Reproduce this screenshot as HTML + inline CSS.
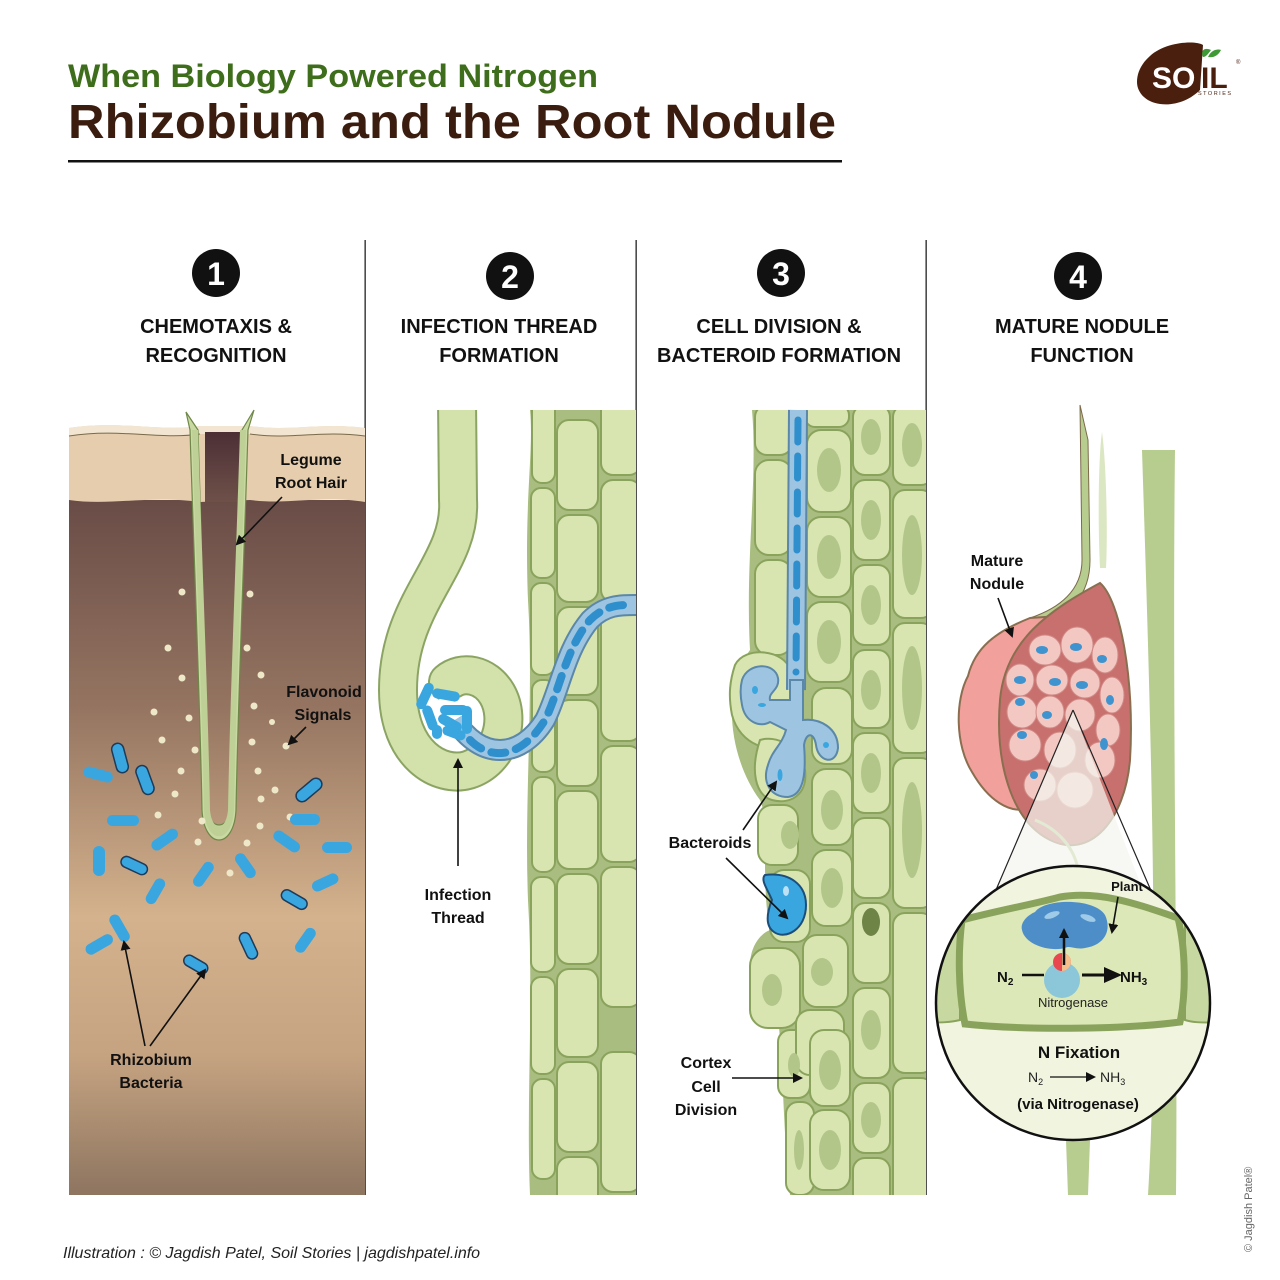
<!DOCTYPE html>
<html><head><meta charset="utf-8"><style>
html,body{margin:0;padding:0;background:#fff;}
svg{display:block;font-family:"Liberation Sans",Arial,Helvetica,sans-serif;}
text{font-family:"Liberation Sans",Arial,Helvetica,sans-serif;}
.h{font-weight:bold;font-size:20px;fill:#111;text-anchor:middle;}
.l{font-weight:bold;font-size:16px;fill:#111;text-anchor:middle;}
.c{fill:#d8e5b0;stroke:#8aa35c;stroke-width:2;}
.n{fill:#b3c689;}
.b{fill:#3aa6e0;}
.bs{fill:#3aa6e0;stroke:#1d3b5a;stroke-width:1.5;}
.ar{stroke:#111;stroke-width:1.6;fill:none;marker-end:url(#ah);}
</style></head><body>
<svg width="1280" height="1280" viewBox="0 0 1280 1280" xmlns="http://www.w3.org/2000/svg" font-family="Liberation Sans, Arial, sans-serif">
<defs>
<marker id="ah" markerWidth="10" markerHeight="10" refX="8" refY="5" orient="auto" markerUnits="userSpaceOnUse"><path d="M0,0 L10,5 L0,10 z" fill="#111"/></marker>
<marker id="ah2" markerWidth="20" markerHeight="20" refX="14" refY="10" orient="auto" markerUnits="userSpaceOnUse"><path d="M0,2 L18,10 L0,18 z" fill="#111"/></marker>
<linearGradient id="soil" x1="0" y1="0" x2="0" y2="1">
<stop offset="0" stop-color="#6a4c47"/><stop offset="0.3" stop-color="#957561"/><stop offset="0.6" stop-color="#d4b28d"/><stop offset="0.8" stop-color="#c5a381"/><stop offset="1" stop-color="#8e7560"/></linearGradient>
<linearGradient id="hole" x1="0" y1="0" x2="0" y2="1"><stop offset="0" stop-color="#4c2f35"/><stop offset="1" stop-color="#6f5049"/></linearGradient>
<clipPath id="p3"><rect x="637" y="410" width="289" height="785"/></clipPath>
<clipPath id="p2"><rect x="366" y="410" width="270" height="785"/></clipPath>
<clipPath id="circ"><circle cx="1073" cy="1003" r="137"/></clipPath>
</defs>

<text x="68" y="87" font-size="32" font-weight="bold" fill="#3e6e1b" textLength="530" lengthAdjust="spacingAndGlyphs">When Biology Powered Nitrogen</text>
<text x="68" y="138" font-size="48" font-weight="bold" fill="#3b1d0f" textLength="768" lengthAdjust="spacingAndGlyphs">Rhizobium and the Root Nodule</text>
<rect x="68" y="160" width="774" height="2.5" fill="#111"/>

<!-- Logo -->
<path d="M1150,56 C1165,42 1195,40 1203,45 L1200,90 C1190,100 1175,106 1160,104 C1145,102 1137,92 1137,82 C1137,72 1142,63 1150,56 z" fill="#4a1f0e"/>
<text x="1152" y="88" font-size="30" font-weight="bold" fill="#fff">SO</text>
<text x="1201" y="88" font-size="30" font-weight="bold" fill="#4a1f0e">IL</text>
<path d="M1203,57 C1200,50 1205,47 1211,50 C1208,54 1206,57 1203,57z M1208,57 C1212,49 1218,49 1221,50 C1218,56 1213,58 1208,57z" fill="#3f9a35"/>
<text x="1198" y="95" font-size="5.5" fill="#4a1f0e" letter-spacing="1.5">STORIES</text>
<text x="1236" y="64" font-size="6" fill="#4a1f0e">®</text>

<rect x="364.5" y="240" width="1.3" height="955" fill="#222"/>
<rect x="635.5" y="240" width="1.3" height="955" fill="#222"/>
<rect x="925.5" y="240" width="1.3" height="955" fill="#222"/>

<g font-weight="bold" font-size="32" fill="#fff" text-anchor="middle">
<circle cx="216" cy="273" r="24" fill="#111"/><text x="216" y="285">1</text>
<circle cx="510" cy="276" r="24" fill="#111"/><text x="510" y="288">2</text>
<circle cx="781" cy="273" r="24" fill="#111"/><text x="781" y="285">3</text>
<circle cx="1078" cy="276" r="24" fill="#111"/><text x="1078" y="288">4</text>
</g>
<text class="h" x="216" y="333">CHEMOTAXIS &amp;</text><text class="h" x="216" y="362">RECOGNITION</text>
<text class="h" x="499" y="333">INFECTION THREAD</text><text class="h" x="499" y="362">FORMATION</text>
<text class="h" x="779" y="333">CELL DIVISION &amp;</text><text class="h" x="779" y="362">BACTEROID FORMATION</text>
<text class="h" x="1082" y="333">MATURE NODULE</text><text class="h" x="1082" y="362">FUNCTION</text>

<!-- PANEL 1 -->
<rect x="69" y="500" width="296" height="695" fill="url(#soil)"/>
<path d="M69,428 C120,420 160,432 200,426 L250,426 C290,432 320,422 365,428 L365,502 C320,495 290,505 250,500 L200,502 C150,495 110,506 69,500 z" fill="#e5cdae"/>
<path d="M69,428 C120,420 160,432 200,426 L250,426 C290,432 320,422 365,428 L365,436 C320,430 290,440 250,434 L200,434 C160,440 120,428 69,436 z" fill="#f2e6d2"/>
<path d="M69,436 C120,428 160,440 200,434 M250,434 C290,440 320,430 365,436" stroke="#7a6a4a" stroke-width="1" fill="none"/>
<rect x="205" y="432" width="38" height="70" fill="url(#hole)"/>
<path d="M186,412 L190,430 C194,560 200,700 202,810 C204,850 234,850 236,810 C238,700 244,560 248,430 L254,410 L242,430 C238,560 232,700 230,810 C228,830 210,830 208,810 C206,700 202,560 198,430 z" fill="#c9d9a2" stroke="#6f8748" stroke-width="1.2"/>
<path d="M192,430 C196,560 202,700 204,810 C206,845 232,845 234,810 C236,700 242,560 246,430 L240,430 C236,560 230,700 228,810 C226,832 212,832 210,810 C208,700 202,560 198,430z" fill="#bed096"/>
<g fill="#eee8c8">
<circle cx="182" cy="592" r="3.5"/><circle cx="250" cy="594" r="3.5"/><circle cx="168" cy="648" r="3.5"/><circle cx="247" cy="648" r="3.5"/><circle cx="182" cy="678" r="3.5"/><circle cx="261" cy="675" r="3.5"/><circle cx="154" cy="712" r="3.5"/><circle cx="189" cy="718" r="3.5"/><circle cx="254" cy="706" r="3.5"/><circle cx="272" cy="722" r="3"/><circle cx="162" cy="740" r="3.5"/><circle cx="195" cy="750" r="3.5"/><circle cx="252" cy="742" r="3.5"/><circle cx="286" cy="746" r="3.5"/><circle cx="181" cy="771" r="3.5"/><circle cx="258" cy="771" r="3.5"/><circle cx="175" cy="794" r="3.5"/><circle cx="275" cy="790" r="3.5"/><circle cx="261" cy="799" r="3.5"/><circle cx="158" cy="815" r="3.5"/><circle cx="202" cy="821" r="3.5"/><circle cx="260" cy="826" r="3.5"/><circle cx="290" cy="817" r="3.5"/><circle cx="198" cy="842" r="3.5"/><circle cx="247" cy="843" r="3.5"/><circle cx="230" cy="873" r="3.5"/>
</g>
<g>
<rect class="bs" x="114" y="743" width="12" height="30" rx="6" transform="rotate(-15 120 758)"/>
<rect class="bs" x="139" y="765" width="12" height="30" rx="6" transform="rotate(-20 145 780)"/>
<rect class="b" x="83" y="769" width="30" height="11" rx="5.5" transform="rotate(15 98 775)"/>
<rect class="b" x="107" y="815" width="32" height="11" rx="5.5"/>
<rect class="b" x="150" y="834" width="30" height="11" rx="5.5" transform="rotate(-35 165 840)"/>
<rect class="b" x="93" y="846" width="12" height="30" rx="6"/>
<rect class="bs" x="120" y="860" width="28" height="11" rx="5.5" transform="rotate(25 134 866)"/>
<rect class="b" x="150" y="877" width="11" height="28" rx="5.5" transform="rotate(30 155 891)"/>
<rect class="b" x="198" y="860" width="11" height="28" rx="5.5" transform="rotate(35 203 874)"/>
<rect class="b" x="240" y="852" width="11" height="28" rx="5.5" transform="rotate(-35 245 866)"/>
<rect class="bs" x="303" y="775" width="12" height="30" rx="6" transform="rotate(50 309 790)"/>
<rect class="b" x="290" y="814" width="30" height="11" rx="5.5"/>
<rect class="b" x="272" y="836" width="30" height="11" rx="5.5" transform="rotate(35 287 841)"/>
<rect class="b" x="322" y="842" width="30" height="11" rx="5.5"/>
<rect class="b" x="311" y="877" width="28" height="11" rx="5.5" transform="rotate(-25 325 882)"/>
<rect class="bs" x="280" y="894" width="28" height="11" rx="5.5" transform="rotate(30 294 900)"/>
<rect class="b" x="114" y="913" width="11" height="30" rx="5.5" transform="rotate(-30 120 928)"/>
<rect class="b" x="84" y="939" width="30" height="11" rx="5.5" transform="rotate(-30 99 944)"/>
<rect class="bs" x="243" y="932" width="11" height="28" rx="5.5" transform="rotate(-25 248 946)"/>
<rect class="b" x="300" y="926" width="11" height="28" rx="5.5" transform="rotate(35 305 940)"/>
<rect class="bs" x="183" y="959" width="26" height="11" rx="5.5" transform="rotate(30 196 964)"/>
</g>
<text class="l" x="311" y="465">Legume</text><text class="l" x="311" y="488">Root Hair</text>
<line class="ar" x1="282" y1="497" x2="237" y2="544"/>
<text class="l" x="324" y="697">Flavonoid</text><text class="l" x="323" y="720">Signals</text>
<line class="ar" x1="306" y1="727" x2="289" y2="744"/>
<text class="l" x="151" y="1065">Rhizobium</text><text class="l" x="151" y="1088">Bacteria</text>
<line class="ar" x1="145" y1="1046" x2="124" y2="942"/>
<line class="ar" x1="150" y1="1046" x2="205" y2="970"/>

<!-- PANEL 2 -->
<g clip-path="url(#p2)">
<path d="M530,410 L636,410 L636,1195 L530,1195 C526,1100 534,1000 528,900 C524,800 534,700 528,600 C524,500 534,450 530,410z" fill="#a8bd7f"/>
<g class="c">
<rect x="532" y="400" width="23" height="83" rx="10"/><rect x="531" y="488" width="24" height="90" rx="10"/><rect x="531" y="583" width="24" height="92" rx="10"/><rect x="532" y="680" width="23" height="92" rx="10"/><rect x="532" y="777" width="23" height="95" rx="10"/><rect x="531" y="877" width="24" height="95" rx="10"/><rect x="531" y="977" width="24" height="97" rx="10"/><rect x="532" y="1079" width="23" height="100" rx="10"/>
<rect x="557" y="420" width="41" height="90" rx="12"/><rect x="557" y="515" width="41" height="87" rx="12"/><rect x="557" y="607" width="41" height="88" rx="12"/><rect x="557" y="700" width="41" height="86" rx="12"/><rect x="557" y="791" width="41" height="78" rx="12"/><rect x="557" y="874" width="41" height="90" rx="12"/><rect x="557" y="969" width="41" height="88" rx="12"/><rect x="557" y="1062" width="41" height="90" rx="12"/><rect x="557" y="1157" width="41" height="50" rx="12"/>
<rect x="601" y="395" width="40" height="80" rx="12"/><rect x="601" y="480" width="40" height="122" rx="12"/><rect x="601" y="607" width="40" height="134" rx="12"/><rect x="601" y="746" width="40" height="116" rx="12"/><rect x="601" y="867" width="40" height="140" rx="12"/><rect x="601" y="1052" width="40" height="140" rx="12"/>
</g>
<path d="M457,400 L458,500 C462,565 398,600 398,690 C398,755 440,778 468,770 C500,760 512,720 497,694 C485,674 462,670 448,682" fill="none" stroke="#8ba463" stroke-width="40" stroke-linecap="round"/>
<path d="M457,400 L458,500 C462,565 398,600 398,690 C398,755 440,778 468,770 C500,760 512,720 497,694 C485,674 462,670 448,682" fill="none" stroke="#d3e1ab" stroke-width="36" stroke-linecap="round"/>
</g>
<ellipse cx="452" cy="714" rx="22" ry="18" fill="#fff"/>
<path d="M455,720 C480,760 520,760 545,720 C560,690 565,650 590,620 C605,605 620,605 636,605" fill="none" stroke="#5b87a8" stroke-width="22"/>
<path d="M455,720 C480,760 520,760 545,720 C560,690 565,650 590,620 C605,605 620,605 636,605" fill="none" stroke="#9dc5e2" stroke-width="18"/>
<path d="M470,740 C490,760 520,760 545,720 C560,690 565,650 590,620 C605,605 620,605 630,605" fill="none" stroke="#2e8fcc" stroke-width="8" stroke-dasharray="14 11" stroke-linecap="round"/>
<g>
<rect class="b" x="420" y="682" width="10" height="28" rx="5" transform="rotate(25 425 696)"/>
<rect class="b" x="432" y="690" width="28" height="10" rx="5" transform="rotate(10 446 695)"/>
<rect class="b" x="440" y="705" width="28" height="10" rx="5"/>
<rect class="b" x="425" y="705" width="10" height="26" rx="5" transform="rotate(-20 430 718)"/>
<rect class="b" x="437" y="718" width="26" height="10" rx="5" transform="rotate(30 450 723)"/>
<rect class="b" x="462" y="706" width="10" height="28" rx="5"/>
<rect class="b" x="442" y="728" width="24" height="10" rx="5" transform="rotate(20 454 733)"/>
<rect class="b" x="432" y="725" width="10" height="14" rx="5"/>
</g>
<text class="l" x="458" y="900">Infection</text><text class="l" x="458" y="923">Thread</text>
<line class="ar" x1="458" y1="866" x2="458" y2="760"/>

<!-- PANEL 3 -->
<g clip-path="url(#p3)">
<path d="M752,410 L926,410 L926,1195 L790,1195 C782,1120 784,1060 776,1000 C740,990 745,940 770,930 C760,880 770,820 760,800 C730,760 720,690 750,650 C745,560 758,480 752,410z" fill="#a8bd7f"/>
<g class="c">
<rect x="755" y="405" width="37" height="50" rx="12"/><rect x="755" y="460" width="37" height="95" rx="14"/><rect x="755" y="560" width="37" height="95" rx="14"/>
<rect x="758" y="805" width="40" height="60" rx="14"/><rect x="770" y="870" width="40" height="72" rx="14"/>
<rect x="750" y="948" width="50" height="80" rx="18"/><rect x="778" y="1030" width="32" height="68" rx="12"/><rect x="786" y="1102" width="28" height="93" rx="12"/>
<rect x="805" y="405" width="44" height="22" rx="10"/><rect x="807" y="430" width="44" height="82" rx="14"/><rect x="807" y="517" width="44" height="80" rx="14"/><rect x="807" y="602" width="44" height="80" rx="14"/><rect x="812" y="688" width="40" height="76" rx="14"/><rect x="812" y="769" width="40" height="76" rx="14"/><rect x="812" y="850" width="40" height="76" rx="14"/><rect x="803" y="935" width="45" height="72" rx="14"/><rect x="796" y="1010" width="48" height="65" rx="14"/><rect x="810" y="1030" width="40" height="76" rx="14"/><rect x="810" y="1110" width="40" height="80" rx="14"/>
<rect x="853" y="405" width="37" height="70" rx="12"/><rect x="853" y="480" width="37" height="80" rx="12"/><rect x="853" y="565" width="37" height="80" rx="12"/><rect x="853" y="650" width="37" height="78" rx="12"/><rect x="853" y="733" width="37" height="80" rx="12"/><rect x="853" y="818" width="37" height="80" rx="12"/><rect x="853" y="903" width="37" height="80" rx="12"/><rect x="853" y="988" width="37" height="90" rx="12"/><rect x="853" y="1083" width="37" height="70" rx="12"/><rect x="853" y="1158" width="37" height="50" rx="12"/>
<rect x="893" y="405" width="40" height="80" rx="12"/><rect x="893" y="490" width="40" height="128" rx="12"/><rect x="893" y="623" width="40" height="130" rx="12"/><rect x="893" y="758" width="40" height="150" rx="12"/><rect x="893" y="913" width="40" height="160" rx="12"/><rect x="893" y="1078" width="40" height="130" rx="12"/>
</g>
<g class="n">
<ellipse cx="829" cy="470" rx="12" ry="22"/><ellipse cx="829" cy="557" rx="12" ry="22"/><ellipse cx="829" cy="642" rx="12" ry="22"/><ellipse cx="832" cy="810" rx="11" ry="20"/><ellipse cx="832" cy="888" rx="11" ry="20"/><ellipse cx="822" cy="972" rx="11" ry="14"/><ellipse cx="830" cy="1070" rx="11" ry="20"/><ellipse cx="830" cy="1150" rx="11" ry="20"/>
<ellipse cx="871" cy="437" rx="10" ry="18"/><ellipse cx="871" cy="520" rx="10" ry="20"/><ellipse cx="871" cy="605" rx="10" ry="20"/><ellipse cx="871" cy="690" rx="10" ry="20"/><ellipse cx="871" cy="773" rx="10" ry="20"/><ellipse cx="871" cy="1030" rx="10" ry="20"/><ellipse cx="871" cy="1120" rx="10" ry="18"/>
<ellipse cx="912" cy="445" rx="10" ry="22"/><ellipse cx="912" cy="555" rx="10" ry="40"/><ellipse cx="912" cy="688" rx="10" ry="42"/><ellipse cx="912" cy="830" rx="10" ry="48"/>
<ellipse cx="772" cy="990" rx="10" ry="16"/><ellipse cx="794" cy="1065" rx="6" ry="12"/><ellipse cx="799" cy="1150" rx="5" ry="20"/><ellipse cx="790" cy="835" rx="9" ry="14"/>
</g>
<ellipse cx="871" cy="922" rx="9" ry="14" fill="#6d8446"/>
</g>
<path d="M735,665 C745,645 785,650 790,670 L795,745 C770,755 740,745 732,715 C728,695 730,680 735,665z" fill="#d8e5b0" stroke="#8aa35c" stroke-width="2"/>
<path d="M760,740 C775,735 800,745 805,770 C808,795 790,805 772,800 C755,795 750,770 760,740z" fill="#d8e5b0" stroke="#8aa35c" stroke-width="2"/>
<path d="M798,410 L796,690" fill="none" stroke="#5b87a8" stroke-width="20"/>
<path d="M798,410 L796,690" fill="none" stroke="#9dc5e2" stroke-width="16"/>
<path d="M798,420 L796,672" fill="none" stroke="#2e8fcc" stroke-width="7" stroke-dasharray="22 14" stroke-linecap="round"/>
<path d="M742,680 C748,662 775,662 778,678 C780,690 768,692 770,700 L790,700 L790,680 L803,680 L803,720 C820,718 838,728 838,748 C836,766 818,762 816,745 C814,732 806,732 804,745 C806,770 805,795 788,797 C770,797 762,782 768,765 C772,750 782,745 786,730 L770,722 C760,728 745,722 742,705 C740,695 740,688 742,680z" fill="#9dc5e2" stroke="#5b87a8" stroke-width="2"/>
<g fill="#3aa6e0"><ellipse cx="755" cy="690" rx="3" ry="4"/><ellipse cx="762" cy="705" rx="4" ry="2"/><ellipse cx="780" cy="775" rx="2.5" ry="6"/><ellipse cx="826" cy="745" rx="3" ry="3"/></g>
<path d="M765,875 C790,872 806,885 806,905 C806,930 785,940 774,932 C764,925 768,910 772,900 C768,890 760,880 765,875z" fill="#3aa6e0" stroke="#1d4e7a" stroke-width="2"/>
<ellipse cx="786" cy="891" rx="3" ry="5" fill="#bde1f5"/>
<text class="l" x="710" y="848">Bacteroids</text>
<line class="ar" x1="743" y1="830" x2="776" y2="782"/>
<line class="ar" x1="726" y1="858" x2="787" y2="918"/>
<text class="l" x="706" y="1068">Cortex</text><text class="l" x="706" y="1092">Cell</text><text class="l" x="706" y="1115">Division</text>
<line class="ar" x1="732" y1="1078" x2="801" y2="1078"/>

<!-- PANEL 4 -->
<path d="M1142,450 L1175,450 C1172,700 1178,1000 1176,1195 L1148,1195 C1160,1000 1150,700 1142,450z" fill="#b7cc8f"/>
<path d="M1080,405 L1082,560 C1082,590 1060,608 1030,618 L1034,628 C1070,616 1090,596 1090,560 L1088,440 z" fill="#b7cc8f" stroke="#7c6a4a" stroke-width="1"/>
<path d="M1102,432 C1106,460 1108,530 1106,568 L1100,568 C1098,530 1098,460 1102,432z" fill="#dbe6c2"/>
<path d="M1030,618 C995,632 975,648 968,676 C955,700 955,745 972,772 C988,800 1010,815 1030,808 L1060,780 C1030,720 1045,640 1075,615 z" fill="#f2a09b" stroke="#8a6e50" stroke-width="2"/>
<path d="M1100,583 C1120,600 1135,680 1130,760 C1125,820 1090,860 1050,840 C1010,820 995,760 1000,700 C1005,640 1050,610 1100,583z" fill="#c8706e" stroke="#8a6e50" stroke-width="2"/>
<g fill="#f3c8c2" stroke="#d08985" stroke-width="1">
<ellipse cx="1045" cy="650" rx="16" ry="15"/><ellipse cx="1077" cy="645" rx="16" ry="18"/><ellipse cx="1105" cy="655" rx="13" ry="18"/>
<ellipse cx="1020" cy="680" rx="14" ry="16"/><ellipse cx="1052" cy="680" rx="16" ry="15"/><ellipse cx="1085" cy="683" rx="15" ry="15"/><ellipse cx="1112" cy="695" rx="12" ry="18"/>
<ellipse cx="1022" cy="712" rx="15" ry="16"/><ellipse cx="1050" cy="712" rx="14" ry="16"/><ellipse cx="1080" cy="715" rx="15" ry="16"/><ellipse cx="1108" cy="730" rx="12" ry="16"/>
<ellipse cx="1025" cy="745" rx="16" ry="16"/><ellipse cx="1060" cy="750" rx="16" ry="18"/><ellipse cx="1100" cy="760" rx="15" ry="18"/>
<ellipse cx="1040" cy="785" rx="16" ry="16"/><ellipse cx="1075" cy="790" rx="18" ry="18"/>
</g>
<g fill="#3f94cf">
<ellipse cx="1042" cy="650" rx="6" ry="4"/><ellipse cx="1076" cy="647" rx="6" ry="4"/><ellipse cx="1102" cy="659" rx="5" ry="4"/><ellipse cx="1020" cy="680" rx="6" ry="4"/><ellipse cx="1055" cy="682" rx="6" ry="4"/><ellipse cx="1082" cy="685" rx="6" ry="4"/><ellipse cx="1020" cy="702" rx="5" ry="4"/><ellipse cx="1047" cy="715" rx="5" ry="4"/><ellipse cx="1110" cy="700" rx="4" ry="5"/><ellipse cx="1022" cy="735" rx="5" ry="4"/><ellipse cx="1104" cy="744" rx="4" ry="6"/><ellipse cx="1034" cy="775" rx="4" ry="4"/>
</g>
<path d="M1035,820 C1060,830 1075,850 1078,870" stroke="#b7cc8f" stroke-width="3" fill="none"/>
<path d="M1073,710 L966,960 L1170,960 z" fill="#f4f5ee" fill-opacity="0.72"/>
<path d="M1073,710 L966,960 M1073,710 L1168,930" stroke="#222" stroke-width="1.2"/>
<path d="M1066,1140 L1090,1140 L1088,1195 L1068,1195z" fill="#b7cc8f"/>
<circle cx="1073" cy="1003" r="137" fill="#f1f4df"/>
<g clip-path="url(#circ)">
<path d="M900,920 C930,915 950,925 960,925 L960,1020 C940,1025 920,1020 900,1025z" fill="#c7d8a0" stroke="#8aa35c" stroke-width="2"/>
<path d="M1185,925 C1200,915 1230,920 1240,925 L1240,1025 C1220,1020 1200,1025 1185,1020z" fill="#c7d8a0" stroke="#8aa35c" stroke-width="2"/>
<path d="M962,920 C1000,910 1030,905 1060,897 C1100,890 1140,905 1178,918 C1186,950 1186,995 1180,1022 C1120,1030 1020,1030 965,1024 C958,990 958,950 962,920z" fill="#dce8b8" stroke="#8aa35c" stroke-width="7"/>
</g>
<circle cx="1073" cy="1003" r="137" fill="none" stroke="#111" stroke-width="2.5"/>
<path d="M1035,912 C1045,898 1095,898 1105,915 C1112,930 1105,945 1085,948 C1075,950 1070,945 1065,948 C1050,952 1025,945 1022,930 C1020,922 1028,915 1035,912z" fill="#4e8ec8"/>
<ellipse cx="1052" cy="915" rx="8" ry="3" fill="#9fcbe8" transform="rotate(-20 1052 915)"/>
<ellipse cx="1088" cy="918" rx="8" ry="3" fill="#9fcbe8" transform="rotate(20 1088 918)"/>
<circle cx="1062" cy="980" r="18" fill="#8bc7d8"/>
<circle cx="1062" cy="962" r="9" fill="#e8474f"/><path d="M1062,953 A9,9 0 0,1 1062,971z" fill="#f5c08c"/>
<line x1="1064" y1="965" x2="1064" y2="930" stroke="#111" stroke-width="2.5" marker-end="url(#ah)"/>
<line x1="1022" y1="975" x2="1044" y2="975" stroke="#111" stroke-width="2.5"/>
<line x1="1082" y1="975" x2="1118" y2="975" stroke="#111" stroke-width="3" marker-end="url(#ah2)"/>
<text x="997" y="982" font-size="15" font-weight="bold" fill="#111">N<tspan font-size="10" dy="3">2</tspan></text>
<text x="1120" y="982" font-size="15" font-weight="bold" fill="#111">NH<tspan font-size="10" dy="3">3</tspan></text>
<text x="1073" y="1007" font-size="13" fill="#222" text-anchor="middle">Nitrogenase</text>
<text x="1127" y="891" font-size="13" font-weight="bold" fill="#111" text-anchor="middle">Plant</text>
<line class="ar" x1="1118" y1="897" x2="1112" y2="932"/>
<text x="1079" y="1058" font-size="17" font-weight="bold" fill="#111" text-anchor="middle">N Fixation</text>
<text x="1028" y="1082" font-size="14" fill="#222">N<tspan font-size="9" dy="3">2</tspan></text>
<line x1="1050" y1="1077" x2="1094" y2="1077" stroke="#111" stroke-width="1.2" marker-end="url(#ah)"/>
<text x="1100" y="1082" font-size="14" fill="#222">NH<tspan font-size="9" dy="3">3</tspan></text>
<text x="1078" y="1109" font-size="15" font-weight="bold" fill="#111" text-anchor="middle">(via Nitrogenase)</text>
<text class="l" x="997" y="566">Mature</text><text class="l" x="997" y="589">Nodule</text>
<line class="ar" x1="998" y1="598" x2="1012" y2="636"/>

<text x="63" y="1258" font-size="16" font-style="italic" fill="#222">Illustration : © Jagdish Patel, Soil Stories | jagdishpatel.info</text>
<text x="0" y="0" font-size="11" fill="#666" transform="translate(1252 1252) rotate(-90)">© Jagdish Patel®</text>
</svg>
</body></html>
